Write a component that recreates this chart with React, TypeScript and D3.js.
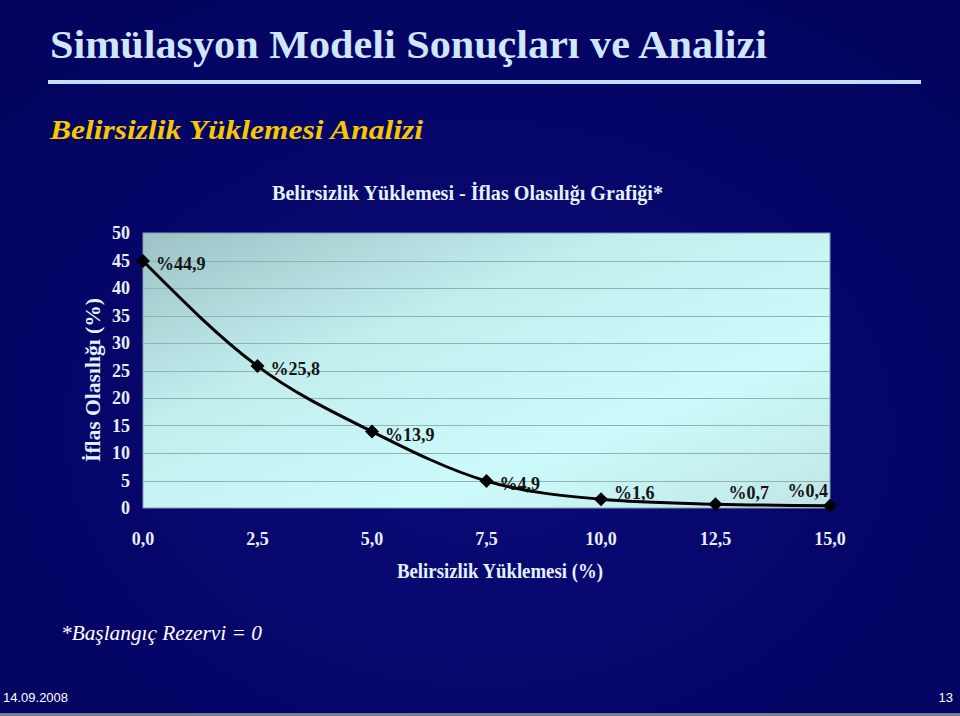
import React from "react";
import * as d3 from "d3";

const loadings = [0, 2.5, 5, 7.5, 10, 12.5, 15];
const probabilities = [44.9, 25.8, 13.9, 4.9, 1.6, 0.7, 0.4];
const pointLabels = ["%44,9", "%25,8", "%13,9", "%4,9", "%1,6", "%0,7", "%0,4"];
const yTicks = [0, 5, 10, 15, 20, 25, 30, 35, 40, 45, 50];
const xTicks = [0, 2.5, 5, 7.5, 10, 12.5, 15];
const xTickLabels = ["0,0", "2,5", "5,0", "7,5", "10,0", "12,5", "15,0"];

const W = 960;
const H = 716;
const plot = { left: 143, right: 830, top: 233, bottom: 508 };
const serif = "Liberation Serif, Times New Roman, Times, Tinos, serif";
const sans = "Liberation Sans, Arial, sans-serif";

export default function App() {
  const x = d3.scaleLinear().domain([0, 15]).range([plot.left, plot.right]);
  const y = d3.scaleLinear().domain([0, 50]).range([plot.bottom, plot.top]);
  const pts: [number, number][] = loadings.map((l, i) => [x(l), y(probabilities[i])]);
  const line = d3.line().curve(d3.curveMonotoneX)(pts) || "";
  const dm = 7;

  return (
    <svg
      width={W}
      height={H}
      style={{ position: "absolute", left: 0, top: 0, display: "block" }}
      xmlns="http://www.w3.org/2000/svg"
    >
      <defs>
        <linearGradient id="plotBg" x1="0" y1="0" x2="1" y2="1">
          <stop offset="0" stopColor="#9cc2c4" />
          <stop offset="0.35" stopColor="#c2eeee" />
          <stop offset="0.7" stopColor="#cdfafa" />
          <stop offset="1" stopColor="#bfe6e6" />
        </linearGradient>
        <radialGradient id="bgGlow" cx="0.5" cy="0.6" r="0.7">
          <stop offset="0" stopColor="#0a0a78" />
          <stop offset="1" stopColor="#03035f" />
        </radialGradient>
      </defs>
      <rect x={0} y={0} width={W} height={H} fill="url(#bgGlow)" />
      <line x1={0} x2={W} y1={H - 1.5} y2={H - 1.5} stroke="#7a7a9a" strokeWidth={3} />

      {/* Slide title */}
      <text
        x={50}
        y={58}
        style={{ fontFamily: serif }}
        fontWeight="bold"
        fontSize={40}
        fill="#cfe6fc"
        textLength={717}
        lengthAdjust="spacingAndGlyphs"
      >
        Simülasyon Modeli Sonuçları ve Analizi
      </text>
      <rect x={48} y={80} width={873} height={4} fill="#c6def6" />
      <text
        x={50}
        y={139}
        style={{ fontFamily: serif }}
        fontWeight="bold"
        fontStyle="italic"
        fontSize={28}
        fill="#f5c800"
        textLength={373}
        lengthAdjust="spacingAndGlyphs"
      >
        Belirsizlik Yüklemesi Analizi
      </text>

      {/* Chart title */}
      <text
        x={272}
        y={200}
        style={{ fontFamily: serif }}
        fontWeight="bold"
        fontSize={20}
        fill="#e4f2ff"
        textLength={391}
        lengthAdjust="spacingAndGlyphs"
      >
        Belirsizlik Yüklemesi - İflas Olasılığı Grafiği*
      </text>

      {/* Plot area */}
      <rect
        x={plot.left}
        y={plot.top}
        width={plot.right - plot.left}
        height={plot.bottom - plot.top}
        fill="url(#plotBg)"
        stroke="#8a9cae"
        strokeWidth={1}
      />
      {yTicks
        .filter((t) => t > 0 && t < 50)
        .map((t) => (
          <line
            key={t}
            x1={plot.left}
            x2={plot.right}
            y1={Math.round(y(t)) + 0.5}
            y2={Math.round(y(t)) + 0.5}
            stroke="#8fb2b4"
            strokeWidth={1}
          />
        ))}

      {/* Y ticks */}
      {yTicks.map((t) => (
        <text
          key={t}
          x={130}
          y={y(t) + 6}
          textAnchor="end"
          style={{ fontFamily: serif }}
          fontWeight="bold"
          fontSize={18}
          fill="#e8eefc"
        >
          {t}
        </text>
      ))}
      {/* X ticks */}
      {xTicks.map((t, i) => (
        <text
          key={t}
          x={x(t)}
          y={545}
          textAnchor="middle"
          style={{ fontFamily: serif }}
          fontWeight="bold"
          fontSize={18}
          fill="#e8eefc"
        >
          {xTickLabels[i]}
        </text>
      ))}

      {/* Axis titles */}
      <text
        x={397}
        y={578}
        style={{ fontFamily: serif }}
        fontWeight="bold"
        fontSize={20}
        fill="#e4f2ff"
        textLength={206}
        lengthAdjust="spacingAndGlyphs"
      >
        Belirsizlik Yüklemesi (%)
      </text>
      <text
        transform={`translate(100, 462) rotate(-90)`}
        style={{ fontFamily: serif }}
        fontWeight="bold"
        fontSize={20}
        fill="#e4f2ff"
        textLength={164}
        lengthAdjust="spacingAndGlyphs"
      >
        İflas Olasılığı (%)
      </text>

      {/* Series */}
      <path d={line} fill="none" stroke="#000" strokeWidth={3} />
      {pts.map(([px, py], i) => (
        <path
          key={i}
          d={`M${px},${py - dm}L${px + dm},${py}L${px},${py + dm}L${px - dm},${py}Z`}
          fill="#000"
        />
      ))}
      {pts.map(([px, py], i) => {
        const last = i === pts.length - 1;
        return (
          <text
            key={i}
            x={last ? px - 2 : px + 13}
            y={last ? py - 9 : Math.min(py + 9, 499)}
            textAnchor={last ? "end" : "start"}
            style={{ fontFamily: serif }}
            fontWeight="bold"
            fontSize={18}
            fill="#141414"
          >
            {pointLabels[i]}
          </text>
        );
      })}

      {/* Footnote */}
      <text
        x={61}
        y={640}
        style={{ fontFamily: serif }}
        fontStyle="italic"
        fontSize={22}
        fill="#ffffff"
        textLength={201}
        lengthAdjust="spacingAndGlyphs"
      >
        *Başlangıç Rezervi = 0
      </text>
      <text x={3} y={702} style={{ fontFamily: sans }} fontSize={13} fill="#ffffff">
        14.09.2008
      </text>
      <text x={953} y={702} textAnchor="end" style={{ fontFamily: sans }} fontSize={13} fill="#ffffff">
        13
      </text>
    </svg>
  );
}
